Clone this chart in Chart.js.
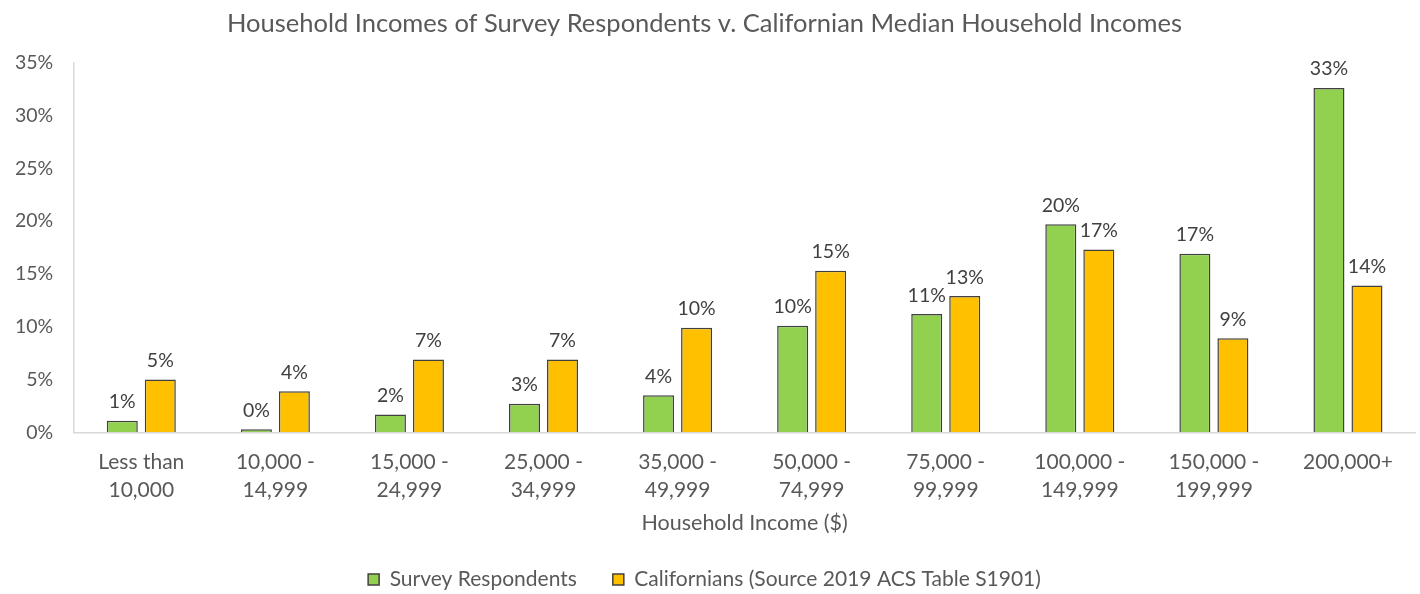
<!DOCTYPE html>
<html>
<head>
<meta charset="utf-8">
<script src="https://cdn.jsdelivr.net/npm/chart.js@4"></script>
<style>
  html, body { margin: 0; padding: 0; background: #fff; }
  #wrap { width: 1420px; height: 594px; }
</style>
</head>
<body>
<div id="wrap"><canvas id="income-chart"></canvas></div>
<script>
const incomeBrackets = [
    ['Less than', '10,000'], ['10,000 -', '14,999'], ['15,000 -', '24,999'], ['25,000 -', '34,999'],
    ['35,000 -', '49,999'], ['50,000 -', '74,999'], ['75,000 -', '99,999'], ['100,000 -', '149,999'],
    ['150,000 -', '199,999'], '200,000+'
];
const surveyRespondents = [1.1, 0.3, 1.7, 2.7, 3.5, 10.1, 11.2, 19.7, 16.9, 32.6];
const californians = [5.0, 3.9, 6.9, 6.9, 9.9, 15.3, 12.9, 17.3, 8.9, 13.9];
const yTicks = [0, 5, 10, 15, 20, 25, 30, 35];

const textColor = '#595959';
const fontFamily = 'Lato, "Open Sans", sans-serif';

// draws the rounded percentage above every bar
const barLabels = {
    id: 'barLabels',
    afterDatasetsDraw(chart) {
        const ctx = chart.ctx;
        ctx.save();
        ctx.font = '19.5px ' + fontFamily;
        ctx.fillStyle = '#404040';
        ctx.textAlign = 'center';
        ctx.textBaseline = 'bottom';
        chart.data.datasets.forEach((ds, i) => {
            chart.getDatasetMeta(i).data.forEach((bar, j) => {
                ctx.fillText(Math.round(ds.data[j]) + '%', bar.x, bar.y - 9);
            });
        });
        ctx.restore();
    }
};

const incomeContext = document.getElementById('income-chart');

new Chart(incomeContext, {
    type: 'bar',
    data: {
        labels: incomeBrackets,
        datasets: [{
            label: 'Survey Respondents',
            data: surveyRespondents,
            backgroundColor: '#92D050',
            borderColor: '#404040',
            borderWidth: 1.5
        }, {
            label: 'Californians (Source 2019 ACS Table S1901)',
            data: californians,
            backgroundColor: '#FFC000',
            borderColor: '#404040',
            borderWidth: 1.5
        }]
    },
    options: {
        responsive: true,
        maintainAspectRatio: false,
        animation: false,
        datasets: {
            bar: {
                categoryPercentage: 0.567,
                barPercentage: 0.816
            }
        },
        layout: {
            padding: { left: -6, right: 5, top: 8, bottom: -6 }
        },
        plugins: {
            title: {
                display: true,
                text: 'Household Incomes of Survey Respondents v. Californian Median Household Incomes',
                color: textColor,
                font: { family: fontFamily, size: 25.5, weight: 'normal' },
                padding: { top: 0, bottom: 24 }
            },
            legend: {
                position: 'bottom',
                labels: {
                    color: textColor,
                    font: { family: fontFamily, size: 21 },
                    boxWidth: 11,
                    boxHeight: 11,
                    padding: 36
                }
            },
            tooltip: { enabled: false }
        },
        scales: {
            x: {
                grid: { display: false, drawTicks: false },
                border: { color: '#d9d9d9', width: 1.5 },
                ticks: {
                    color: textColor,
                    font: { family: fontFamily, size: 21, lineHeight: 1.33 },
                    padding: 16,
                    maxRotation: 0
                },
                title: {
                    display: true,
                    text: 'Household Income ($)',
                    color: textColor,
                    font: { family: fontFamily, size: 21.5 },
                    padding: { top: -10, bottom: -3 }
                }
            },
            y: {
                min: 0,
                max: 35,
                grid: { display: false, drawTicks: false },
                border: { color: '#d9d9d9', width: 1.5 },
                afterBuildTicks(axis) {
                    axis.ticks = yTicks.map(v => ({ value: v }));
                },
                ticks: {
                    color: textColor,
                    font: { family: fontFamily, size: 19.5 },
                    padding: 21,
                    callback: v => v + '%'
                }
            }
        }
    },
    plugins: [barLabels]
});
</script>
</body>
</html>
